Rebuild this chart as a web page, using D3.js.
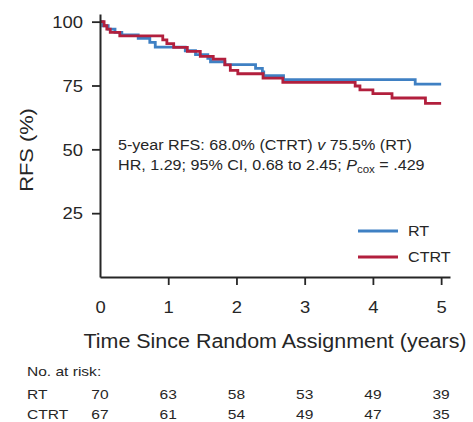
<!DOCTYPE html>
<html>
<head>
<meta charset="utf-8">
<script src="https://cdn.jsdelivr.net/npm/d3@7"></script>
<style>
  html, body { margin: 0; padding: 0; background: #fff; }
  svg { display: block; font-family: "Liberation Sans", Arial, Helvetica, sans-serif; }
</style>
</head>
<body>
<svg id="chart" width="473" height="422"></svg>
<script>
// Kaplan-Meier step data: event times (years) and relapse-free survival (%)
const rtTimes   = [0, 0.04, 0.12, 0.22, 0.32, 0.56, 0.73, 0.81, 1.25, 1.40, 1.58, 1.62, 1.83, 2.28, 2.38, 2.40, 2.69, 4.62, 5.0];
const rtSurv    = [100, 98.4, 97.1, 95.8, 94.8, 93.5, 91.9, 90.0, 88.6, 87.1, 85.6, 84.3, 83.2, 81.7, 80.3, 78.9, 77.3, 75.5, 75.5];
const ctrtTimes = [0, 0.06, 0.10, 0.15, 0.29, 0.92, 0.98, 1.08, 1.28, 1.47, 1.66, 1.83, 1.91, 2.02, 2.39, 2.68, 3.74, 3.81, 4.00, 4.28, 4.77, 5.0];
const ctrtSurv  = [100, 98.4, 97.1, 95.8, 94.4, 92.9, 91.4, 89.9, 88.4, 86.4, 85.3, 83.1, 80.9, 79.6, 77.9, 76.2, 74.8, 73.3, 71.8, 70.1, 68.0, 68.0];

// Axis ticks and numbers at risk
const xTicks = [0, 1, 2, 3, 4, 5];
const yTicks = [25, 50, 75, 100];
const riskRT   = [70, 63, 58, 53, 49, 39];
const riskCTRT = [67, 61, 54, 49, 47, 35];

const groups = [
  { name: "RT",   times: rtTimes,   surv: rtSurv,   color: "#3f80c3" },
  { name: "CTRT", times: ctrtTimes, surv: ctrtSurv, color: "#b21f3d" }
];

const ink = "#262626";
const svg = d3.select("#chart");

const x = d3.scaleLinear().domain([0, 5.13]).range([100, 450]);
const y = d3.scaleLinear().domain([0, 103]).range([277, 14]);

// Glyphs in this figure are drawn a little wider than the stock face
const WIDE = 1.15;
function widen(sel, k = WIDE) {
  sel.each(function () {
    const w = this.getComputedTextLength();
    d3.select(this).attr("textLength", w * k).attr("lengthAdjust", "spacingAndGlyphs");
  });
}

// Survival curves
const line = d3.line()
  .x(d => x(d[0]))
  .y(d => y(d[1]))
  .curve(d3.curveStepAfter);

svg.append("g").selectAll("path")
  .data(groups)
  .join("path")
  .attr("d", g => line(g.times.map((t, i) => [t, g.surv[i]])))
  .attr("fill", "none")
  .attr("stroke", g => g.color)
  .attr("stroke-width", 2.8);

// Y axis
const yAxis = svg.append("g")
  .attr("transform", `translate(${x(0)},0)`)
  .call(d3.axisLeft(y).tickValues(yTicks).tickSize(8).tickSizeOuter(0).tickPadding(9));
yAxis.select(".domain").attr("stroke", ink).attr("stroke-width", 2);
yAxis.selectAll(".tick line").attr("stroke", ink).attr("stroke-width", 1.8);
yAxis.selectAll(".tick text")
  .attr("fill", ink).attr("font-size", 16).attr("font-family", null).attr("dy", "0.36em");
widen(yAxis.selectAll(".tick text"));

// X axis
const xAxis = svg.append("g")
  .attr("transform", `translate(0,${y(0)})`)
  .call(d3.axisBottom(x).tickValues(xTicks).tickSize(8).tickSizeOuter(0).tickPadding(17).tickFormat(d3.format("d")));
xAxis.select(".domain").attr("stroke", ink).attr("stroke-width", 2);
xAxis.selectAll(".tick line").attr("stroke", ink).attr("stroke-width", 1.8)
  .attr("opacity", d => d === 0 ? 0 : 1);
xAxis.selectAll(".tick text")
  .attr("fill", ink).attr("font-size", 16).attr("font-family", null);
widen(xAxis.selectAll(".tick text"));

// Axis titles
const yTitle = svg.append("text")
  .attr("transform", "translate(33,150) rotate(-90)")
  .attr("text-anchor", "middle")
  .attr("fill", ink).attr("font-size", 19)
  .text("RFS (%)");
widen(yTitle);

const xTitle = svg.append("text")
  .attr("x", 275).attr("y", 348)
  .attr("text-anchor", "middle")
  .attr("fill", ink).attr("font-size", 19.5)
  .text("Time Since Random Assignment (years)");
widen(xTitle, 1.1);

// Summary statistics
const note1 = svg.append("text")
  .attr("x", 118).attr("y", 150)
  .attr("fill", ink).attr("font-size", 14);
note1.append("tspan").text("5-year RFS: 68.0% (CTRT) ");
note1.append("tspan").attr("font-style", "italic").text("v");
note1.append("tspan").text(" 75.5% (RT)");
widen(note1);

const note2 = svg.append("text")
  .attr("x", 118).attr("y", 169.5)
  .attr("fill", ink).attr("font-size", 14);
note2.append("tspan").text("HR, 1.29; 95% CI, 0.68 to 2.45; ");
note2.append("tspan").attr("font-style", "italic").text("P");
note2.append("tspan").attr("font-size", 10).attr("dy", 3).text("cox");
note2.append("tspan").attr("dy", -3).text(" = .429");
widen(note2);

// Legend
const legend = svg.append("g").selectAll("g")
  .data(groups)
  .join("g")
  .attr("transform", (d, i) => `translate(358,${231 + i * 26})`);
legend.append("line")
  .attr("x1", 0).attr("x2", 40)
  .attr("stroke", d => d.color).attr("stroke-width", 2.8);
const legendText = legend.append("text")
  .attr("x", 50).attr("y", 5)
  .attr("fill", ink).attr("font-size", 14)
  .text(d => d.name);
widen(legendText);

// Numbers at risk
const table = svg.append("g").attr("fill", ink).attr("font-size", 13.5);
widen(table.append("text").attr("x", 27).attr("y", 376).text("No. at risk:"));
[["RT", riskRT, 399], ["CTRT", riskCTRT, 419]].forEach(([name, counts, yy]) => {
  widen(table.append("text").attr("x", 27).attr("y", yy).text(name));
  const cells = table.selectAll(null)
    .data(counts)
    .join("text")
    .attr("x", (d, i) => x(xTicks[i]))
    .attr("y", yy)
    .attr("text-anchor", "middle")
    .text(d => d);
  widen(cells);
});
</script>
</body>
</html>
